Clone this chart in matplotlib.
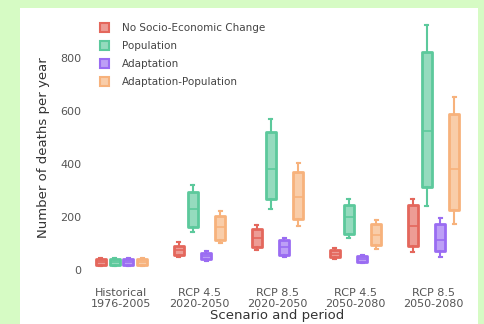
import matplotlib
matplotlib.use("Agg")
import matplotlib.pyplot as plt
from matplotlib.patches import Patch, Rectangle
from matplotlib.colors import to_rgba

categories = ["Historical\n1976-2005", "RCP 4.5\n2020-2050", "RCP 8.5\n2020-2050",
              "RCP 4.5\n2050-2080", "RCP 8.5\n2050-2080"]
series_names = ["No Socio-Economic Change", "Population", "Adaptation", "Adaptation-Population"]
series_colors = ["#e4675c", "#5cc99c", "#9a6cf2", "#f7b27c"]
yticks = [0, 200, 400, 600, 800]

# [whisker low, q1, median, q3, whisker high] per category
no_change = [[14, 18, 30, 42, 46], [48, 58, 75, 92, 104], [75, 87, 119, 156, 169],
             [42, 50, 62, 75, 82], [69, 90, 166, 244, 266]]
population = [[14, 18, 30, 42, 46], [144, 162, 231, 294, 319], [231, 269, 381, 519, 569],
              [119, 137, 200, 247, 269], [241, 312, 525, 821, 922]]
adaptation = [[14, 18, 30, 42, 46], [33, 42, 54, 66, 73], [50, 58, 87, 112, 122],
              [25, 32, 42, 52, 58], [50, 72, 115, 175, 197]]
adapt_pop = [[14, 18, 30, 42, 46], [102, 115, 162, 202, 222], [165, 194, 275, 369, 402],
             [81, 94, 131, 175, 190], [175, 225, 381, 587, 652]]
all_series = [no_change, population, adaptation, adapt_pop]

fig = plt.figure(figsize=(4.85, 3.24), dpi=100)
fig.patch.set_facecolor("#d6fbc4")
bg = Rectangle((20 / 485, 0), (478 - 20) / 485, (324 - 8) / 324,
               transform=fig.transFigure, facecolor="white", edgecolor="none", zorder=-5)
fig.add_artist(bg)
ax = fig.add_axes([82.5 / 485, (324 - 282) / 324, 390 / 485, (282 - 14) / 324])
ax.set_zorder(1)
ax.set_facecolor("white")

offsets = [-0.265, -0.088, 0.088, 0.265]
width = 0.13
for s, (stats_list, color) in enumerate(zip(all_series, series_colors)):
    stats = []
    for st in stats_list:
        lo, q1, med, q3, hi = st
        stats.append(dict(whislo=lo, q1=q1, med=med, q3=q3, whishi=hi, fliers=[]))
    pos = [i + offsets[s] for i in range(len(categories))]
    ax.bxp(stats, positions=pos, widths=width, patch_artist=True, showfliers=False,
           boxprops=dict(facecolor=to_rgba(color, 0.65), edgecolor=color, linewidth=2.0,
                         joinstyle="round"),
           medianprops=dict(color=color, linewidth=1.2),
           whiskerprops=dict(color=color, linewidth=1.5),
           capprops=dict(color=color, linewidth=1.5), capwidths=0.04,
           manage_ticks=False)

ax.set_xlim(-0.5, len(categories) - 0.5)
ax.set_ylim(-45, 965)
ax.set_xticks(range(len(categories)))
ax.set_xticklabels(categories, fontsize=8, color="#555555")
ax.set_yticks(yticks)
ax.set_yticklabels([str(v) for v in yticks], fontsize=8, color="#555555")
ax.tick_params(axis="x", length=0, pad=4)
ax.tick_params(axis="y", length=0, pad=1)
for sp in ax.spines.values():
    sp.set_visible(False)
ax.set_xlabel("Scenario and period", fontsize=9.5, color="#333333", labelpad=0)
ax.set_ylabel("Number of deaths per year", fontsize=9.5, color="#333333", labelpad=7)

handles = [Patch(facecolor=to_rgba(c, 0.65), edgecolor=c, linewidth=1.5) for c in series_colors]
ax.legend(handles, series_names, loc="upper left", bbox_to_anchor=(0.02, 1.0),
          frameon=False, fontsize=7.5, handlelength=0.9, handleheight=0.9,
          labelspacing=0.75, handletextpad=1.2, labelcolor="#444444")

fig.savefig("out.png", dpi=100, facecolor=fig.get_facecolor())
